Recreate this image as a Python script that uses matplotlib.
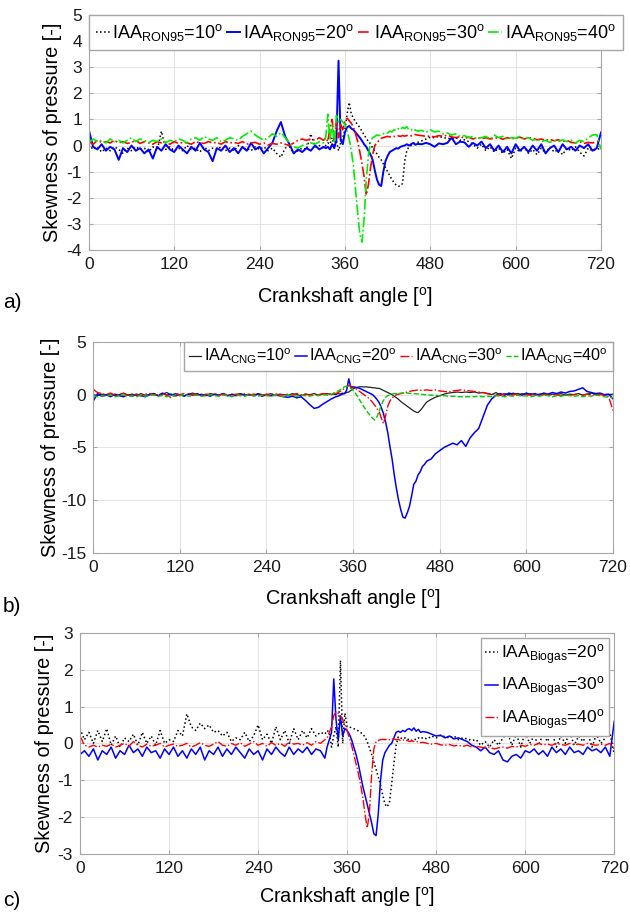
import numpy as np
import matplotlib
matplotlib.use('Agg')
import matplotlib.pyplot as plt

plt.rcParams['font.family'] = ['Liberation Sans', 'DejaVu Sans']
plt.rcParams['mathtext.fontset'] = 'custom'
plt.rcParams['mathtext.rm'] = 'Liberation Sans'
plt.rcParams['mathtext.it'] = 'Liberation Sans:italic'
plt.rcParams['axes.unicode_minus'] = False

# crank angle samples (coarser away from combustion)
angle = np.concatenate([np.arange(0, 331, 6), np.arange(333, 463, 3), np.arange(468, 721, 6)])

# ---- a) RON95
ron95_10 = [0.05, -0.15, -0.05, -0.25, -0.1, -0.2, -0.05, -0.15, -0.3, -0.1,
            -0.2, -0.05, -0.15, -0.1, -0.25, -0.05, -0.2, 0.55, -0.15, -0.05,
            -0.2, -0.1, -0.2, 0.0, -0.15, -0.1, -0.25, -0.05, -0.2, -0.1,
            -0.15, -0.05, -0.2, -0.1, -0.2, 0.0, -0.15, -0.1, -0.2, -0.05,
            -0.15, -0.05, -0.2, -0.1, -0.3, -0.45, -0.1, -0.05, -0.3, -0.2,
            -0.1, -0.15, 0.45, -0.05, 0.0, -0.1,
            0.0, 0.1, 0.05, 0.3, 0.0, 0.2, -0.2, 0.1, 0.3, 0.6,
            1.2, 1.65, 1.2, 1.05, 0.9, 0.8, 0.68, 0.55, 0.4, 0.28,
            0.15, 0.05, -0.1, -0.22, -0.32, -0.45, -0.55, -0.7, -0.85, -1.0,
            -1.15, -1.3, -1.42, -1.52, -1.56, -1.55, -1.45, -0.6, -0.2, -0.05,
            0.0, 0.05, 0.1, 0.12,
            0.18, 0.25, 0.32, 0.3, 0.35, 0.3, 0.28, 0.25, 0.3, 0.2,
            0.22, 0.15, 0.05, -0.1, 0.05, -0.2, -0.05, -0.25, -0.1, -0.3,
            -0.15, -0.5, -0.1, -0.25, -0.05, -0.3, -0.15, -0.35, -0.1, -0.3,
            -0.05, -0.25, -0.15, -0.35, -0.1, -0.2, -0.05, -0.25, -0.4, -0.1,
            -0.2, -0.15, -0.1]
ron95_20 = [0.6, -0.05, -0.15, 0.05, -0.2, -0.05, -0.15, -0.55, -0.1, -0.25,
            0.0, -0.2, -0.1, -0.3, -0.15, -0.5, -0.05, -0.2, 0.05, -0.15,
            -0.25, 0.0, -0.15, -0.3, -0.05, -0.2, 0.1, -0.15, -0.25, -0.6,
            -0.1, -0.2, 0.0, -0.25, -0.1, -0.3, -0.05, -0.2, 0.1, -0.15,
            -0.05, -0.3, -0.1, 0.1, 0.55, 0.9, 0.35, 0.05, -0.3, -0.15,
            -0.25, -0.1, -0.2, 0.0, -0.15, -0.05,
            -0.1, -0.05, -0.15, 0.05, -0.1, 0.2, 3.25, 0.2, 0.05, 0.5,
            0.7, 0.75, 0.65, 0.6, 0.5, 0.4, 0.3, 0.18, 0.05, -0.05,
            -0.2, -0.35, -0.55, -0.95, -1.3, -1.5, -1.55, -1.0, -0.6, -0.4,
            -0.25, -0.2, -0.15, -0.1, -0.12, -0.05, -0.02, 0.0, 0.05, 0.0,
            0.05, 0.1, 0.03, 0.06,
            0.05, 0.1, 0.05, -0.05, 0.08, 0.05, 0.1, 0.3, 0.05, 0.15,
            0.12, -0.05, 0.1, 0.0, 0.15, -0.1, 0.05, -0.2, 0.0, -0.25,
            -0.05, -0.3, 0.05, -0.2, -0.05, -0.25, 0.0, -0.2, 0.05, -0.3,
            -0.1, 0.0, -0.25, 0.05, -0.15, -0.05, -0.2, 0.0, -0.1, 0.05,
            -0.2, -0.1, 0.5]
ron95_30 = [0.15, 0.05, 0.2, 0.12, 0.15, 0.1, 0.2, 0.1, 0.15, 0.08,
            0.12, 0.2, 0.08, 0.15, 0.1, 0.05, 0.15, 0.1, 0.12, 0.05,
            0.15, 0.08, 0.12, 0.1, 0.05, 0.15, 0.1, 0.08, 0.15, 0.1,
            0.12, 0.05, 0.15, 0.1, 0.12, 0.08, 0.15, 0.05, 0.1, 0.12,
            0.05, 0.1, 0.02, 0.08, 0.05, 0.1, 0.05, 0.0, 0.1, 0.2,
            0.25, 0.2, 0.25, 0.2, 0.3, 0.2,
            0.3, 0.15, 0.7, 1.0, 0.2, 0.9, 0.3, 0.8, 0.6, 0.95,
            1.05, 0.95, 0.85, 0.7, 0.45, 0.15, -0.25, -0.7, -1.2, -1.9,
            -1.5, -0.85, -0.35, 0.0, 0.1, 0.2, 0.28, 0.3, 0.33, 0.35,
            0.33, 0.36, 0.35, 0.33, 0.37, 0.35, 0.38, 0.36, 0.38, 0.4,
            0.37, 0.4, 0.42, 0.4,
            0.38, 0.35, 0.36, 0.33, 0.38, 0.35, 0.4, 0.33, 0.3, 0.35,
            0.28, 0.32, 0.25, 0.3, 0.26, 0.3, 0.25, 0.28, 0.3, 0.24,
            0.3, 0.26, 0.28, 0.32, 0.25, 0.3, 0.28, 0.22, 0.25, 0.2,
            0.24, 0.18, 0.22, 0.15, 0.2, 0.12, 0.1, 0.15, 0.08, 0.12,
            0.1, 0.15, 0.2]
ron95_40 = [0.1, 0.25, 0.15, 0.2, 0.1, 0.25, 0.15, 0.2, 0.1, 0.2,
            0.3, 0.15, 0.25, 0.2, 0.1, 0.2, 0.15, 0.25, 0.1, 0.2,
            0.15, 0.25, 0.2, 0.1, 0.25, 0.3, 0.2, 0.35, 0.25, 0.2,
            0.3, 0.15, 0.2, 0.3, 0.25, 0.2, 0.35, 0.45, 0.55, 0.4,
            0.3, 0.2, 0.3, 0.45, 0.35, 0.5, 0.3, 0.1, -0.05, -0.1,
            0.0, 0.05, 0.1, 0.05, 0.15, 0.1,
            0.3, 1.2, 0.2, 0.8, 0.1, 1.15, 0.9, 1.0, 0.9, 0.8,
            0.55, 0.25, -0.2, -0.8, -1.7, -2.6, -3.4, -3.7, -2.8, -1.3,
            -0.4, 0.15, 0.3, 0.35, 0.4, 0.38, 0.42, 0.45, 0.5, 0.48,
            0.55, 0.52, 0.6, 0.58, 0.65, 0.6, 0.7, 0.65, 0.72, 0.6,
            0.62, 0.55, 0.6, 0.55,
            0.58, 0.5, 0.6, 0.52, 0.55, 0.45, 0.48, 0.4, 0.45, 0.35,
            0.38, 0.3, 0.35, 0.25, 0.3, 0.35, 0.25, 0.4, 0.3, 0.35,
            0.25, 0.3, 0.28, 0.35, 0.25, 0.3, 0.2, 0.25, 0.15, 0.2,
            0.12, 0.2, 0.15, 0.22, 0.15, 0.2, 0.1, 0.2, 0.15, 0.3,
            0.4, 0.42, -0.15]

# ---- b) CNG
cng_10 = [0.0, -0.1, 0.05, -0.05, 0.1, -0.1, 0.0, 0.15, -0.05, 0.05,
          -0.1, 0.1, -0.05, 0.0, 0.1, -0.1, 0.05, 0.2, -0.05, 0.1,
          0.0, -0.1, 0.05, 0.15, -0.05, 0.05, -0.1, 0.1, 0.0, -0.05,
          0.1, -0.1, 0.05, 0.0, 0.1, -0.05, 0.05, -0.1, 0.1, 0.0,
          -0.05, 0.1, -0.1, 0.05, 0.0, -0.05, 0.1, 0.0, -0.1, 0.05,
          0.0, 0.1, -0.05, 0.05, 0.1, 0.0,
          0.05, 0.0, 0.1, 0.05, 0.15, 0.1, 0.2, 0.25, 0.4, 0.55,
          0.65, 0.7, 0.75, 0.75, 0.72, 0.75, 0.7, 0.7, 0.65, 0.65,
          0.6, 0.6, 0.5, 0.4, 0.3, 0.2, 0.1, 0.0, -0.15, -0.3,
          -0.45, -0.65, -0.8, -0.95, -1.1, -1.25, -1.4, -1.55, -1.65, -1.7,
          -1.5, -1.25, -0.95, -0.7,
          -0.45, -0.25, -0.1, 0.05, 0.15, 0.2, 0.25, 0.2, 0.25, 0.2,
          0.25, 0.15, 0.2, 0.1, 0.0, 0.2, -0.05, 0.1, 0.0, 0.15,
          -0.05, 0.1, 0.0, 0.1, -0.05, 0.05, 0.1, -0.05, 0.05, 0.0,
          0.1, -0.05, 0.05, 0.0, 0.1, -0.05, 0.05, 0.15, 0.0, 0.05,
          -0.05, 0.0, 0.05]
cng_20 = [-0.6, 0.1, -0.15, 0.0, -0.2, 0.05, -0.1, -0.2, 0.0, -0.15,
          0.05, -0.1, -0.2, 0.0, 0.1, -0.1, 0.15, -0.05, 0.05, -0.1,
          0.0, -0.15, 0.05, -0.05, 0.1, -0.1, 0.0, -0.15, 0.05, -0.05,
          0.1, -0.1, 0.0, -0.1, 0.05, -0.05, 0.0, -0.1, 0.05, -0.15,
          0.0, -0.1, -0.05, -0.1, -0.2, -0.25, -0.15, -0.3, -0.2, -0.55,
          -0.95, -1.3, -1.2, -0.9, -0.65, -0.4,
          -0.3, -0.2, -0.15, -0.05, 0.05, 0.1, 0.4, 1.5, 0.6, 0.75,
          0.7, 0.65, 0.6, 0.5, 0.4, 0.3, 0.2, 0.1, 0.0, -0.2,
          -0.45, -0.75, -1.2, -1.8, -2.6, -3.6, -4.9, -6.1, -7.6, -8.9,
          -10.0, -10.9, -11.6, -11.7, -11.2, -10.6, -9.6, -8.5, -8.2, -7.6,
          -7.3, -6.8, -6.6, -6.3,
          -6.1, -5.6, -5.3, -5.0, -4.8, -4.6, -4.75, -4.35, -4.9, -4.1,
          -3.6, -3.2, -2.1, -1.0, -0.4, -0.05, 0.1, -0.05, 0.15, 0.0,
          0.1, -0.05, 0.15, 0.0, 0.1, -0.05, 0.15, 0.05, 0.2, 0.1,
          0.25, 0.15, 0.3, 0.35, 0.5, 0.65, 0.3, 0.2, 0.1, 0.15,
          0.0, 0.05, -0.4]
cng_30 = [0.5, 0.2, 0.1, 0.0, 0.15, -0.05, 0.05, 0.1, -0.05, 0.05,
          0.0, -0.1, 0.05, 0.1, -0.05, 0.0, 0.1, -0.05, -0.3, 0.05,
          0.0, 0.1, -0.05, 0.05, 0.0, -0.1, 0.05, 0.0, 0.1, -0.05,
          0.05, 0.0, -0.1, 0.05, 0.0, 0.1, -0.05, 0.05, 0.0, -0.1,
          0.05, 0.0, 0.1, -0.05, 0.0, 0.05, -0.05, 0.1, 0.0, 0.05,
          -0.05, 0.05, 0.0, 0.1, 0.05, 0.1,
          0.15, 0.1, 0.2, 0.3, 0.45, 0.6, 0.75, 0.85, 0.8, 0.7,
          0.6, 0.45, 0.3, 0.15, 0.0, -0.15, -0.3, -0.5, -0.75, -1.0,
          -1.3, -1.6, -2.2, -2.75, -2.0, -1.1, -0.6, -0.3, -0.15, 0.0,
          0.05, 0.1, 0.15, 0.2, 0.25, 0.3, 0.35, 0.38, 0.4, 0.45,
          0.4, 0.45, 0.42, 0.45,
          0.4, 0.45, 0.35, 0.3, 0.25, 0.35, 0.4, 0.45, 0.4, 0.35,
          0.3, 0.25, 0.2, 0.1, 0.05, 0.0, -0.05, 0.05, -0.1, 0.0,
          0.05, -0.1, 0.0, -0.05, 0.05, -0.1, 0.0, 0.05, -0.05, 0.0,
          -0.1, 0.05, -0.05, 0.0, 0.1, -0.05, 0.05, 0.0, -0.05, 0.05,
          -0.1, -0.2, -1.5]
cng_40 = [-0.1, -0.2, -0.1, -0.15, -0.05, -0.2, -0.1, -0.05, -0.15, -0.1,
          -0.2, -0.05, -0.15, -0.1, 0.0, -0.15, -0.1, -0.2, -0.05, -0.15,
          -0.1, 0.0, -0.15, -0.1, -0.05, -0.15, -0.1, 0.0, -0.1, -0.15,
          -0.05, -0.1, -0.2, -0.05, -0.1, -0.15, 0.0, -0.1, -0.15, -0.05,
          -0.1, -0.15, -0.05, -0.1, -0.2, -0.05, -0.1, -0.15, -0.05, -0.1,
          -0.15, -0.05, -0.1, 0.0, -0.05, 0.05,
          0.1, 0.2, 0.35, 0.45, 0.6, 0.75, 0.8, 0.75, 0.6, 0.4,
          0.15, -0.15, -0.5, -0.85, -1.15, -1.45, -1.75, -2.0, -2.25, -2.4,
          -2.1, -1.6, -1.0, -0.55, -0.25, -0.1, 0.0, 0.05, 0.1, 0.1,
          0.12, 0.15, 0.15, 0.15, 0.15, 0.12, 0.1, 0.1, 0.08, 0.05,
          0.05, 0.02, 0.0, 0.0,
          -0.05, -0.05, -0.1, -0.1, -0.15, -0.15, -0.2, -0.2, -0.2, -0.2,
          -0.2, -0.15, -0.2, -0.15, -0.2, -0.1, -0.15, -0.2, -0.1, -0.15,
          -0.05, -0.15, -0.1, -0.2, -0.1, -0.15, -0.05, -0.1, -0.2, -0.1,
          -0.15, -0.05, -0.1, -0.15, -0.1, -0.2, -0.1, -0.15, -0.05, -0.1,
          -0.2, -0.25, -0.3]

# ---- c) Biogas
bio_20 = [0.4, 0.1, 0.3, 0.0, 0.35, 0.05, 0.4, -0.05, 0.2, -0.1,
          0.15, 0.05, 0.25, -0.05, 0.3, 0.0, 0.2, -0.05, 0.35, 0.0,
          0.1, 0.05, 0.35, 0.2, 0.8, 0.45, 0.35, 0.55, 0.4, 0.5,
          0.3, 0.35, 0.2, 0.3, 0.05, 0.15, 0.1, 0.3, 0.05, 0.2,
          0.5, 0.1, 0.25, 0.0, 0.45, 0.1, 0.35, 0.0, 0.4, 0.1,
          0.35, 0.15, 0.4, 0.2, 0.3, 0.25,
          0.35, 0.3, -0.1, 0.2, 0.45, -0.1, 2.25, 0.0, 0.82, 0.45,
          0.45, 0.42, 0.4, 0.37, 0.34, 0.3, 0.25, 0.18, 0.05, -0.12,
          -0.3, -0.5, -0.7, -0.92, -1.13, -1.4, -1.65, -1.72, -1.6, -1.1,
          -0.55, -0.05, 0.18, 0.15, 0.12, 0.15, 0.1, 0.12, 0.08, 0.12,
          0.1, 0.15, 0.12, 0.16,
          0.12, 0.2, 0.15, 0.22, 0.18, 0.15, 0.2, 0.1, 0.15, 0.12,
          0.08, 0.1, -0.05, 0.05, -0.1, 0.1, -0.05, 0.15, 0.3, -0.05,
          0.25, -0.1, 0.3, 0.0, 0.2, -0.05, 0.25, 0.05, 0.3, -0.1,
          0.2, 0.0, 0.3, -0.05, 0.2, 0.05, 0.3, -0.1, 0.25, 0.0,
          0.15, 0.3, -0.3]
bio_30 = [-0.3, -0.2, -0.35, -0.15, -0.45, -0.2, -0.3, -0.1, -0.4, -0.2,
          -0.3, -0.05, -0.25, -0.15, -0.35, -0.1, -0.25, -0.2, -0.4, -0.15,
          -0.3, -0.1, -0.35, -0.2, -0.4, -0.15, -0.3, -0.1, -0.45, -0.2,
          -0.3, -0.1, -0.35, -0.15, -0.3, -0.1, -0.25, -0.4, -0.15, -0.3,
          -0.2, -0.45, -0.15, -0.3, -0.1, -0.25, -0.35, -0.1, -0.3, -0.15,
          -0.25, -0.1, -0.3, -0.15, -0.2, -0.4,
          -0.1, 0.1, 0.3, 1.75, 0.65, 0.1, 0.75, 0.2, 0.4, 0.35,
          0.25, 0.1, -0.1, -0.3, -0.55, -0.85, -1.15, -1.4, -1.65, -1.9,
          -2.15, -2.45, -2.5, -1.9, -1.0, -0.45, -0.25, -0.15, -0.05, 0.0,
          0.15, 0.3, 0.33, 0.3, 0.35, 0.32, 0.38, 0.4, 0.35, 0.42,
          0.33, 0.38, 0.3, 0.32,
          0.3, 0.25, 0.2, 0.22, 0.15, 0.2, 0.12, 0.15, 0.1, 0.05,
          -0.05, -0.1, -0.2, -0.1, -0.25, -0.3, -0.2, -0.45, -0.5, -0.35,
          -0.3, -0.4, -0.2, -0.25, -0.15, -0.3, -0.2, -0.35, -0.1, -0.25,
          -0.15, -0.3, -0.1, -0.25, -0.2, -0.3, -0.1, -0.2, -0.15, -0.25,
          -0.1, -0.35, 0.6]
bio_40 = [0.2, -0.05, -0.1, -0.05, -0.1, -0.05, -0.08, -0.02, -0.1, -0.05,
          0.0, -0.08, 0.05, -0.05, -0.1, -0.02, -0.08, -0.05, 0.0, -0.1,
          -0.05, -0.02, -0.08, -0.05, 0.0, -0.1, -0.05, 0.02, -0.05, -0.08,
          -0.02, 0.05, -0.05, -0.08, 0.0, -0.05, 0.02, -0.08, -0.02, 0.05,
          -0.05, 0.0, -0.08, 0.02, -0.05, 0.0, -0.08, 0.05, -0.02, 0.0,
          -0.05, 0.02, -0.05, 0.05, 0.0, 0.1,
          0.15, 0.3, 0.45, 0.75, 0.86, 0.82, 0.75, 0.65, 0.5, 0.35,
          0.15, -0.05, -0.3, -0.55, -0.8, -1.1, -1.45, -1.9, -2.3, -1.9,
          -0.85, -0.15, 0.05, 0.08, 0.1, 0.11, 0.1, 0.12, 0.1, 0.11,
          0.12, 0.1, 0.11, 0.08, 0.1, 0.07, 0.08, 0.05, 0.07, 0.05,
          0.04, 0.05, 0.02, 0.03,
          0.0, -0.02, 0.0, -0.04, -0.05, -0.03, -0.07, -0.05, -0.08, -0.05,
          -0.1, -0.08, -0.1, -0.12, -0.1, -0.15, -0.12, -0.1, -0.13, -0.08,
          -0.1, -0.05, -0.08, -0.03, -0.05, 0.0, -0.04, -0.02, -0.05, 0.0,
          -0.03, -0.05, 0.0, -0.04, -0.02, -0.05, 0.0, -0.03, -0.05, -0.02,
          -0.05, 0.0, -0.15]

fig = plt.figure(figsize=(6.3, 9.18), dpi=100)

xticks = [0, 120, 240, 360, 480, 600, 720]


def style_axes(ax, yticks, ylim):
    ax.set_xlim(0, 720)
    ax.set_ylim(*ylim)
    ax.set_xticks(xticks)
    ax.set_yticks(yticks)
    ax.grid(True, color='#e3e3e3', linewidth=0.7)
    ax.set_axisbelow(True)
    for s in ax.spines.values():
        s.set_color('#a6a6a6')
        s.set_linewidth(0.8)
    ax.tick_params(direction='in', length=3, color='#a6a6a6', labelsize=12.5,
                   labelcolor='#1a1a1a', top=True, right=True)
    ax.tick_params(axis='x', pad=5)
    ax.tick_params(axis='y', pad=5)
    ax.set_xlabel('Crankshaft angle [$^{\\mathrm{o}}$]', fontsize=14.3)
    ax.set_ylabel('Skewness of pressure [-]', fontsize=14.3)


leg_kw = dict(frameon=True, fancybox=False, framealpha=1, edgecolor='#a6a6a6',
              handlelength=0.75, handletextpad=0.15)

# a)
ax1 = fig.add_axes([0.141, 0.7277, 0.813, 0.256])
ax1.plot(angle, ron95_10, color='k', ls=':', lw=1.1, label='IAA$_{\\mathrm{RON95}}$=10$^{\\mathrm{o}}$')
ax1.plot(angle, ron95_20, color='#0000ff', ls='-', lw=1.4, label='IAA$_{\\mathrm{RON95}}$=20$^{\\mathrm{o}}$')
ax1.plot(angle, ron95_30, color='#ff0000', ls='-.', lw=1.2, label='IAA$_{\\mathrm{RON95}}$=30$^{\\mathrm{o}}$')
ax1.plot(angle, ron95_40, color='#00ee00', ls='-.', lw=1.2, label='IAA$_{\\mathrm{RON95}}$=40$^{\\mathrm{o}}$')
style_axes(ax1, range(-4, 6), (-4, 5))
ax1.legend(loc='upper left', bbox_to_anchor=(0, 1), borderaxespad=0, ncol=4,
           fontsize=13, columnspacing=0.2, borderpad=0.4, **leg_kw)
ax1.xaxis.set_label_coords(0.5, -0.15)
ax1.yaxis.set_label_coords(-0.053, 0.5)

# b)
ax2 = fig.add_axes([0.148, 0.3976, 0.825, 0.230])
ax2.plot(angle, cng_10, color='#222222', ls='-', lw=0.9, label='IAA$_{\\mathrm{CNG}}$=10$^{\\mathrm{o}}$')
ax2.plot(angle, cng_20, color='#0000ff', ls='-', lw=1.1, label='IAA$_{\\mathrm{CNG}}$=20$^{\\mathrm{o}}$')
ax2.plot(angle, cng_30, color='#ff0000', ls='-.', lw=1.0, label='IAA$_{\\mathrm{CNG}}$=30$^{\\mathrm{o}}$')
ax2.plot(angle, cng_40, color='#00cc00', ls='--', lw=1.0, label='IAA$_{\\mathrm{CNG}}$=40$^{\\mathrm{o}}$')
style_axes(ax2, [-15, -10, -5, 0, 5], (-15, 5))
ax2.legend(loc='upper right', bbox_to_anchor=(1, 1), borderaxespad=0, ncol=4,
           fontsize=11.7, columnspacing=0.2, borderpad=0.3, **leg_kw)
ax2.xaxis.set_label_coords(0.5, -0.16)
ax2.yaxis.set_label_coords(-0.063, 0.5)

# c)
ax3 = fig.add_axes([0.127, 0.0697, 0.848, 0.241])
ax3.plot(angle, bio_20, color='k', ls=':', lw=1.1, label='IAA$_{\\mathrm{Biogas}}$=20$^{\\mathrm{o}}$')
ax3.plot(angle, bio_30, color='#0000ff', ls='-', lw=1.1, label='IAA$_{\\mathrm{Biogas}}$=30$^{\\mathrm{o}}$')
ax3.plot(angle, bio_40, color='#ff0000', ls='-.', lw=1.0, label='IAA$_{\\mathrm{Biogas}}$=40$^{\\mathrm{o}}$')
style_axes(ax3, range(-3, 4), (-3, 3))
ax3.legend(loc='upper right', borderaxespad=0.3, fontsize=12.5, labelspacing=0.45,
           borderpad=0.25, **leg_kw)
ax3.xaxis.set_label_coords(0.5, -0.14)
ax3.yaxis.set_label_coords(-0.049, 0.5)

fig.text(0.005, 1 - 302 / 918, 'a)', fontsize=15, va='center')
fig.text(0.005, 1 - 607 / 918, 'b)', fontsize=15, va='center')
fig.text(0.005, 1 - 900 / 918, 'c)', fontsize=15, va='center')

fig.savefig('out.png', dpi=100)
